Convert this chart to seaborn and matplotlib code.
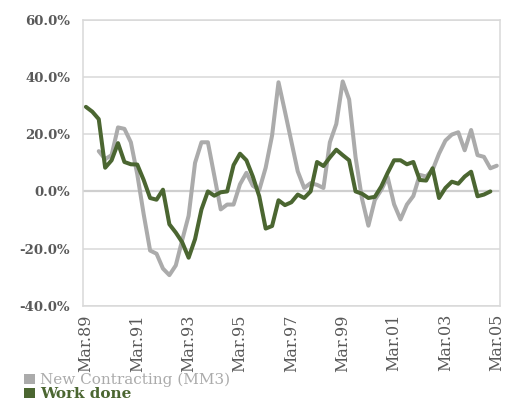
import numpy as np
import pandas as pd
import seaborn as sns
import matplotlib.pyplot as plt
from matplotlib.patches import Patch

# quarterly growth (%), Mar.89 = index 0 ... Mar.05 = index 64
work_done = [29.6, 27.9, 25.3, 8.3, 10.9, 16.9, 10.3, 9.5, 9.4, 4.0,
             -2.3, -2.9, 0.6, -11.5, -14.4, -17.8, -23.2, -16.7, -6.3, 0.0,
             -1.5, -0.3, 0.0, 9.2, 13.2, 10.9, 5.2, -1.7, -13.0, -12.1,
             -3.1, -4.8, -3.8, -1.1, -2.3, 0.0, 10.3, 8.9, 11.9, 14.6,
             12.7, 10.9, 0.0, -0.8, -2.3, -1.9, 1.7, 6.5, 10.9, 10.9,
             9.5, 10.3, 4.0, 3.8, 8.1, -2.3, 1.2, 3.4, 2.7, 5.2,
             6.9, -1.7, -1.1, 0.0]
work_start = 0

new_contracting = [14.1, 11.3, 12.7, 22.4, 21.9, 17.2, 6.0, -8.0,
                   -20.7, -21.8, -27.0, -29.3, -25.9, -17.0, -8.5, 10.0, 17.2, 17.2,
                   5.5, -6.3, -4.6, -4.6, 2.5, 6.5, 2.0, 0.5, 8.3, 19.6,
                   38.2, 28.0, 17.5, 7.0, 1.2, 2.9, 2.3, 1.2, 17.2, 23.6,
                   38.5, 32.2, 12.0, -2.5, -12.0, -3.0, 0.5, 5.0, -4.5, -9.8,
                   -4.6, -1.6, 5.8, 5.2, 7.5, 13.2, 17.8, 19.9, 20.7, 14.4,
                   21.5, 12.7, 12.1, 8.1, 9.0]
contracting_start = 2

n_quarters = 65
tick_labels = ["Mar.89", "Mar.91", "Mar.93", "Mar.95", "Mar.97",
               "Mar.99", "Mar.01", "Mar.03", "Mar.05"]

grey = "#ababab"
green = "#4b6631"

df = pd.concat([
    pd.DataFrame({"q": np.arange(contracting_start, contracting_start + len(new_contracting)),
                  "value": new_contracting, "series": "New Contracting (MM3)"}),
    pd.DataFrame({"q": np.arange(work_start, work_start + len(work_done)),
                  "value": work_done, "series": "Work done"}),
])

sns.set_theme(style="white")
plt.rcParams["font.family"] = ["DejaVu Serif"]

fig, ax = plt.subplots(figsize=(5.05, 4.09), dpi=100)
fig.subplots_adjust(left=82.7 / 505, right=500 / 505, top=1 - 20 / 409, bottom=1 - 305.7 / 409)

ax.yaxis.grid(True, color="#d9d9d9", lw=1.1)
ax.set_axisbelow(True)
ax.axhline(0, color="#cfcfcf", lw=1.6, zorder=1)

sns.lineplot(data=df, x="q", y="value", hue="series",
             palette=[grey, green], linewidth=2.9, ax=ax, legend=False, zorder=3)
for line in ax.lines[1:]:
    line.set_solid_joinstyle("round")
    line.set_solid_capstyle("round")

ax.set_xlim(-0.5, n_quarters - 0.5)
ax.set_ylim(-40, 60)
ax.set_yticks(np.arange(-40, 61, 20))
ax.set_yticklabels([f"{v:.1f}%" for v in np.arange(-40, 61, 20)],
                   fontweight="bold", color="#595959", fontsize=9.5)
ax.set_xticks(np.arange(0, n_quarters, 8))
ax.set_xticklabels(tick_labels, rotation=90, color="#595959", fontsize=11.5)
ax.tick_params(axis="both", length=0)
ax.tick_params(axis="y", pad=9)
ax.tick_params(axis="x", pad=6)
ax.set_xlabel("")
ax.set_ylabel("")
for sp in ax.spines.values():
    sp.set_color("#d9d9d9")
    sp.set_linewidth(1.1)

handles = [Patch(facecolor=grey, edgecolor="none"), Patch(facecolor=green, edgecolor="none")]
leg = fig.legend(handles, ["New Contracting (MM3)", "Work done"],
                 loc="upper left", bbox_to_anchor=(24 / 505, 1 - 373 / 409),
                 frameon=False, fontsize=11, handlelength=0.7, handleheight=0.7,
                 handletextpad=0.35, labelspacing=0.0, borderpad=0, borderaxespad=0)
leg.get_texts()[0].set_color(grey)
leg.get_texts()[1].set_color(green)
leg.get_texts()[1].set_fontweight("bold")

fig.savefig("out.png", dpi=100)
